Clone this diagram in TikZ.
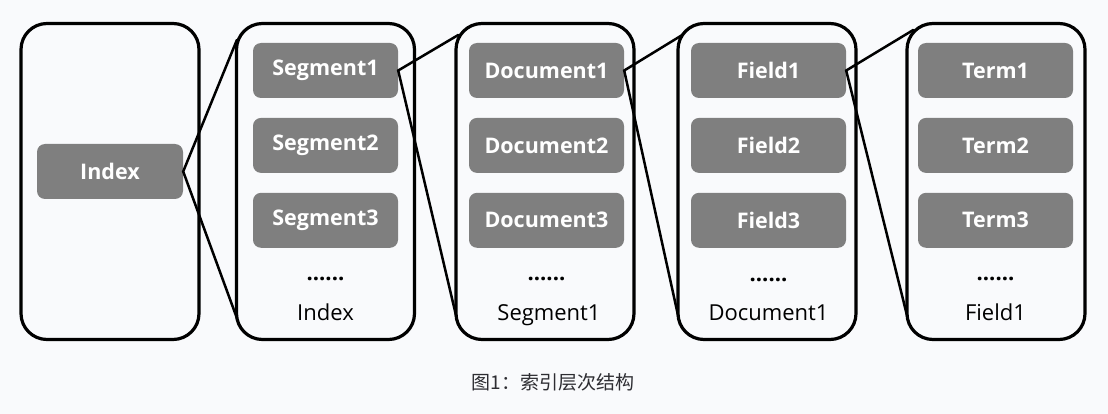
\documentclass[tikz,border=0pt]{standalone}
\usepackage{fontspec}
\setmainfont{Open Sans}
\newfontfamily\cjkfont{Noto Sans CJK SC}
\usepackage{xcolor}
\usepackage{tikz}
\usetikzlibrary{positioning, calc}
\definecolor{bgcolor}{RGB}{249,250,252}
\definecolor{cellgray}{RGB}{127,127,127}
\definecolor{captiongray}{RGB}{45,45,50}

\begin{document}
\begin{tikzpicture}[x=1pt,y=-1pt]
            \tikzset{level/.style = {draw, line width=3.2pt, rounded corners=26pt, minimum width=178pt, minimum height=316pt, inner sep=0pt}}
            \tikzset{cell/.style = {fill=cellgray, text=white, rounded corners=8pt, minimum width=155pt, minimum height=55pt, inner sep=0pt, font=\fontsize{21.5}{26}\selectfont\bfseries}}
            \tikzset{tag/.style = {font=\fontsize{22}{26}\selectfont, anchor=base}}
            \tikzset{dots/.style = {font=\fontsize{22}{26}\selectfont\bfseries}}
            \tikzset{link/.style = {line width=2.5pt, line cap=round}}

            \fill[bgcolor] (0,0) rectangle (1108,414);
            \useasboundingbox (0,0) rectangle (1108,414);

            % index
            \node[level] (indexbox) at (110,181.5) {};
            \node[cell, minimum width=146pt] (index) at (110,171.5) {Index};

            % segments of the index
            \node[level] (segbox) at (325.5,181.5) {};
            \node[cell, minimum width=145pt] (seg1) at (325.5,70.5) {Segment1};
            \node[cell, minimum width=145pt] (seg2) [below=19.5pt of seg1] {Segment2};
            \node[cell, minimum width=145pt] (seg3) [below=19.5pt of seg2] {Segment3};
            \node[dots] (segdots) at (325.5,279) {......};
            \node[tag] (seglabel) at (325.5,320) {Index};

            % documents of segment1
            \node[level] (docbox) at (545,181.5) {};
            \node[cell] (doc1) at (546.5,70.5) {Document1};
            \node[cell] (doc2) [below=19.5pt of doc1] {Document2};
            \node[cell] (doc3) [below=19.5pt of doc2] {Document3};
            \node[dots] (docdots) at (546.5,279) {......};
            \node[tag] (doclabel) at (549,320) {Segment1};

            % fields of document1
            \node[level] (fieldbox) at (767,181.5) {};
            \node[cell] (field1) at (768.5,70.5) {Field1};
            \node[cell] (field2) [below=19.5pt of field1] {Field2};
            \node[cell] (field3) [below=19.5pt of field2] {Field3};
            \node[dots] (fielddots) at (768.5,280) {......};
            \node[tag] (fieldlabel) at (768.5,320) {Document1};

            % terms of field1
            \node[level] (termbox) at (996,181.5) {};
            \node[cell] (term1) at (995.5,70.5) {Term1};
            \node[cell] (term2) [below=19.5pt of term1] {Term2};
            \node[cell] (term3) [below=19.5pt of term2] {Term3};
            \node[dots] (termdots) at (995.5,279) {......};
            \node[tag] (termlabel) at (995.5,320) {Field1};

            % zoom lines
            \coordinate (segtop) at ($(segbox.north west)+(2,18)$);
            \coordinate (segbot) at ($(segbox.south west)+(2,-23)$);
            \coordinate (doctop) at ($(docbox.north west)+(4,13)$);
            \coordinate (docbot) at ($(docbox.south west)+(2,-24)$);
            \coordinate (fieldtop) at ($(fieldbox.north west)+(6,13)$);
            \coordinate (fieldbot) at ($(fieldbox.south west)+(2,-24)$);
            \coordinate (termtop) at ($(termbox.north west)+(8,8)$);
            \coordinate (termbot) at ($(termbox.south west)+(2,-24)$);
            \draw[link] (segtop) -- (index.east) -- (segbot);
            \draw[link] (doctop) -- (seg1.east) -- (docbot);
            \draw[link] (fieldtop) -- (doc1.east) -- (fieldbot);
            \draw[link] (termtop) -- (field1.east) -- (termbot);

            % caption
            \node[font=\cjkfont\fontsize{19}{22}\selectfont, text=captiongray] (caption) at (553,382) {图1：索引层次结构};
        \end{tikzpicture}
\end{document}
